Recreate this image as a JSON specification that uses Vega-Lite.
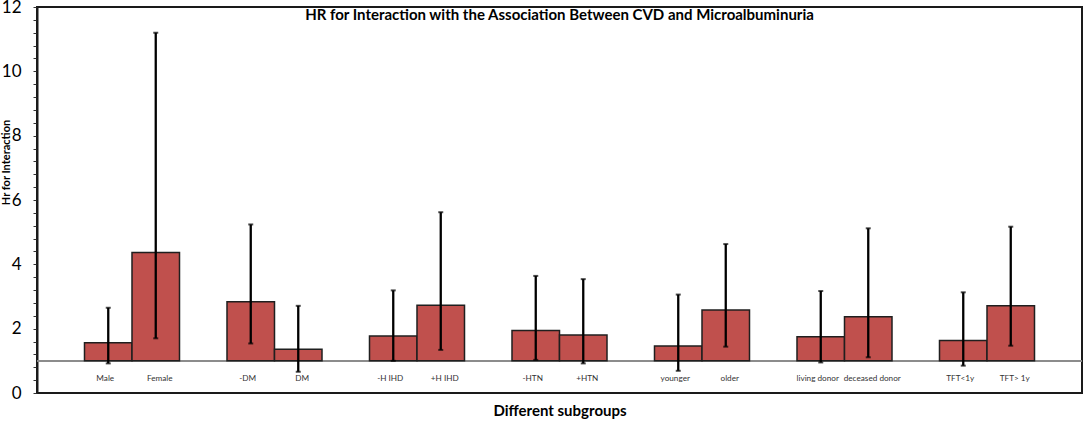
{
  "$schema": "https://vega.github.io/schema/vega-lite/v6.json",
  "width": 1045,
  "height": 386,
  "autosize": {"type": "none"},
  "padding": {"left": 37, "top": 7, "right": 2, "bottom": 29},
  "background": "white",
  "title": {
    "text": "HR for Interaction with the Association Between CVD and Microalbuminuria",
    "font": "Lato",
    "fontSize": 15,
    "fontWeight": "bold",
    "color": "black",
    "anchor": "middle",
    "frame": "group",
    "offset": -25
  },
  "data": {
    "values": [
      {"group": "Sex", "arm": "A", "subgroup": "Male", "hr": 1.56, "lo": 0.92, "hi": 2.65},
      {"group": "Sex", "arm": "B", "subgroup": "Female", "hr": 4.37, "lo": 1.7, "hi": 11.2},
      {"group": "Diabetes", "arm": "A", "subgroup": "-DM", "hr": 2.84, "lo": 1.54, "hi": 5.24},
      {"group": "Diabetes", "arm": "B", "subgroup": "DM", "hr": 1.36, "lo": 0.66, "hi": 2.71},
      {"group": "IHD", "arm": "A", "subgroup": "-H IHD", "hr": 1.77, "lo": 1.0, "hi": 3.19},
      {"group": "IHD", "arm": "B", "subgroup": "+H IHD", "hr": 2.73, "lo": 1.34, "hi": 5.62},
      {"group": "HTN", "arm": "A", "subgroup": "-HTN", "hr": 1.94, "lo": 1.03, "hi": 3.64},
      {"group": "HTN", "arm": "B", "subgroup": "+HTN", "hr": 1.8, "lo": 0.92, "hi": 3.54},
      {"group": "Age", "arm": "A", "subgroup": "younger", "hr": 1.46, "lo": 0.69, "hi": 3.06},
      {"group": "Age", "arm": "B", "subgroup": "older", "hr": 2.58, "lo": 1.44, "hi": 4.63},
      {"group": "Donor", "arm": "A", "subgroup": "living donor", "hr": 1.75, "lo": 0.95, "hi": 3.17},
      {"group": "Donor", "arm": "B", "subgroup": "deceased donor", "hr": 2.37, "lo": 1.11, "hi": 5.12},
      {"group": "TFT", "arm": "A", "subgroup": "TFT<1y", "hr": 1.63, "lo": 0.85, "hi": 3.13},
      {"group": "TFT", "arm": "B", "subgroup": "TFT> 1y", "hr": 2.71, "lo": 1.47, "hi": 5.17}
    ]
  },
  "encoding": {
    "x": {
      "field": "group",
      "type": "nominal",
      "scale": {
        "domain": ["Sex", "Diabetes", "IHD", "HTN", "Age", "Donor", "TFT"],
        "paddingInner": 0.33333,
        "paddingOuter": 0.33333
      },
      "axis": {
        "labels": false,
        "ticks": false,
        "domain": false,
        "title": "Different subgroups",
        "titleFont": "Lato",
        "titleFontSize": 15,
        "titleFontWeight": "bold",
        "titleColor": "black",
        "titlePadding": 10
      }
    },
    "xOffset": {
      "field": "arm",
      "type": "nominal",
      "scale": {"domain": ["A", "B"], "paddingInner": 0, "paddingOuter": 0}
    },
    "y": {
      "field": "hr",
      "type": "quantitative",
      "scale": {"domain": [0, 12], "nice": false},
      "axis": {
        "values": [0, 0.4, 0.8, 1.2, 1.6, 2, 2.4, 2.8, 3.2, 3.6, 4, 4.4, 4.8, 5.2, 5.6, 6, 6.4, 6.8, 7.2, 7.6, 8, 8.4, 8.8, 9.2, 9.6, 10, 10.4, 10.8, 11.2, 11.6, 12],
        "labelExpr": "datum.value % 2 === 0 ? '' + datum.value : ''",
        "labelOverlap": false,
        "labelBound": false,
        "labelFlush": false,
        "labelFont": "Lato",
        "labelFontSize": 17,
        "labelColor": "black",
        "labelPadding": 12,
        "tickSize": 4,
        "tickColor": "#333333",
        "domainColor": "#1a1a1a",
        "domainWidth": 2,
        "grid": false,
        "title": "Hr for Interaction",
        "titleFont": "Lato",
        "titleFontSize": 11,
        "titleFontWeight": "bold",
        "titleColor": "black",
        "titleX": -26,
        "titleY": 155,
        "titleBaseline": "bottom",
        "titleAngle": -90
      }
    }
  },
  "layer": [
    {
      "mark": {"type": "rule", "color": "#8c8c8c", "strokeWidth": 1},
      "encoding": {
        "x": null,
        "xOffset": null,
        "y": {"datum": 1, "type": "quantitative"}
      }
    },
    {
      "mark": {"type": "bar", "color": "#c0504d", "stroke": "#1f1f1f", "strokeWidth": 1.5},
      "encoding": {
        "y2": {"datum": 1}
      }
    },
    {
      "mark": {"type": "rule", "color": "black", "strokeWidth": 2.3},
      "encoding": {
        "y": {"field": "lo", "type": "quantitative"},
        "y2": {"field": "hi"}
      }
    },
    {
      "mark": {"type": "tick", "color": "black", "size": 5, "thickness": 2},
      "encoding": {
        "y": {"field": "lo", "type": "quantitative"}
      }
    },
    {
      "mark": {"type": "tick", "color": "black", "size": 5, "thickness": 2},
      "encoding": {
        "y": {"field": "hi", "type": "quantitative"}
      }
    },
    {
      "transform": [{"filter": "datum.arm === 'A'"}],
      "mark": {"type": "text", "font": "Lato", "fontSize": 8.2, "color": "#333333", "dx": -3},
      "encoding": {
        "y": {"datum": 0.45, "type": "quantitative"},
        "text": {"field": "subgroup"}
      }
    },
    {
      "transform": [{"filter": "datum.arm === 'B'"}],
      "mark": {"type": "text", "font": "Lato", "fontSize": 8.2, "color": "#333333", "dx": 4},
      "encoding": {
        "y": {"datum": 0.45, "type": "quantitative"},
        "text": {"field": "subgroup"}
      }
    }
  ],
  "config": {
    "view": {"stroke": "#1a1a1a", "strokeWidth": 2},
    "axisY": {"labelOverlap": false}
  }
}
